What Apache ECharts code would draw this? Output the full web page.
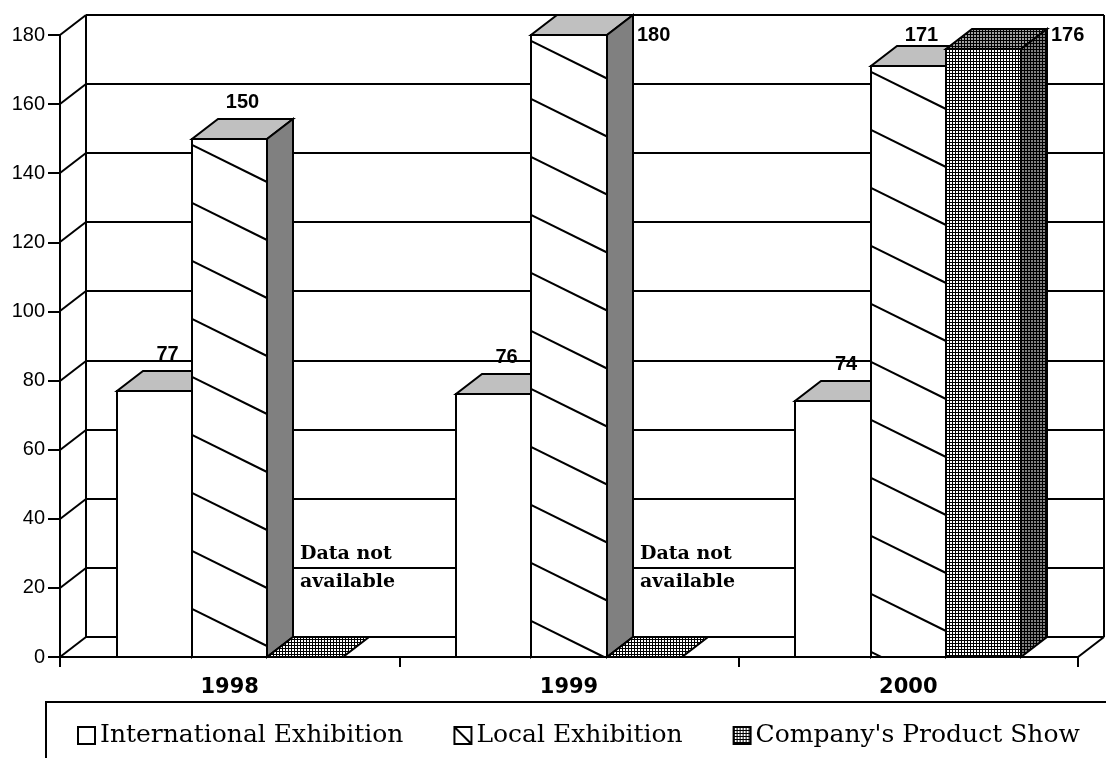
<!DOCTYPE html>
<html>
<head>
<meta charset="utf-8">
<title>Exhibitions 1998-2000</title>
<script src="https://cdn.jsdelivr.net/npm/echarts@6/dist/echarts.min.js"></script>
<style>
  html, body { margin: 0; padding: 0; background: #fff; }
  #chart { width: 1106px; height: 758px; }
</style>
</head>
<body>
<div id="chart"></div>
<script>
// data
const categories = ['1998', '1999', '2000']
const international = [77, 76, 74]
const local = [150, 180, 171]
const company = [null, null, 176]   // null = no data for that year
const missingText = 'Data not\navailable'
const yTicks = [0, 20, 40, 60, 80, 100, 120, 140, 160, 180]
const seriesNames = ['International Exhibition', 'Local Exhibition', "Company's Product Show"]

// 3d depth offset of the floor / walls (px)
const DX = 26
const DY = -20

// small fill patterns
function gridPattern (bg, line) {
  const c = document.createElement('canvas')
  c.width = 3
  c.height = 3
  const ctx = c.getContext('2d')
  ctx.fillStyle = bg
  ctx.fillRect(0, 0, 3, 3)
  ctx.fillStyle = line
  ctx.fillRect(0, 0, 3, 1)
  ctx.fillRect(0, 0, 1, 3)
  return { image: c, repeat: 'repeat' }
}
const gridFront = gridPattern('#ffffff', '#000000')
const gridTop = gridPattern('#a0a0a0', '#000000')
const gridSide = gridPattern('#808080', '#000000')

const hatchCache = {}
function hatchPattern (w) {
  const key = Math.round(w)
  if (!hatchCache[key]) {
    const c = document.createElement('canvas')
    c.width = key + 4
    c.height = 58
    const ctx = c.getContext('2d')
    ctx.fillStyle = '#fff'
    ctx.fillRect(0, 0, c.width, c.height)
    ctx.strokeStyle = '#000'
    ctx.lineWidth = 2
    ctx.beginPath()
    ctx.moveTo(0, 6)
    ctx.lineTo(w, 6 + w * 37 / 75)
    ctx.stroke()
    hatchCache[key] = { image: c, repeat: 'repeat' }
  }
  return hatchCache[key]
}

function line (x1, y1, x2, y2) {
  return {
    type: 'line',
    shape: { x1: Math.round(x1), y1: Math.round(y1), x2: Math.round(x2), y2: Math.round(y2) },
    style: { stroke: '#000', lineWidth: 2 }
  }
}

function face (x, y, points, fill) {
  return {
    type: 'polygon',
    x: x,
    y: y,
    shape: { points: points },
    style: { fill: fill, stroke: '#000', lineWidth: 2, lineJoin: 'miter' }
  }
}

function label (text, x, y, font, align) {
  return {
    type: 'text',
    style: {
      text: text,
      x: x,
      y: y,
      fill: '#000',
      font: font,
      align: align,
      textAlign: align,
      verticalAlign: 'middle',
      textVerticalAlign: 'middle',
      lineHeight: 28
    },
    z2: 10
  }
}

// back wall, left wall and floor edges
function renderWalls (params, api) {
  const cs = params.coordSys
  const v = api.value(1)
  const y = api.coord([0, v])[1]
  const x0 = cs.x
  const x1 = cs.x + cs.width
  const children = [
    line(x0, y, x0 + DX, y + DY),
    line(x0 + DX, y + DY, x1 + DX, y + DY)
  ]
  if (params.dataIndex === 0) {
    children.push(line(x0 + DX, y + DY, x0 + DX, cs.y + DY))
    children.push(line(x1 + DX, y + DY, x1 + DX, cs.y + DY))
    children.push(line(x1, y, x1 + DX, y + DY))
  }
  return { type: 'group', children: children }
}

function makeBar (k, fills) {
  return function (params, api) {
    const cs = params.coordSys
    const i = api.value(0)
    const v = api.value(1)
    const missing = api.value(2) === 1
    const band = api.size([1, 0])[0]
    const bw = band / 4.5
    const base = api.coord([i, 0])
    const left = Math.round(base[0] - 1.5 * bw + k * bw)
    const w = Math.round(base[0] - 1.5 * bw + (k + 1) * bw) - left
    const y0 = Math.round(base[1])
    const yTop = Math.round(api.coord([i, v])[1])
    const h = y0 - yTop
    const children = []
    const topPts = [[0, 0], [w, 0], [w + DX, DY], [DX, DY]]

    if (missing) {
      children.push(face(left, y0, topPts, fills.empty))
      children.push(label(missingText, left + 33, y0 - 89, 'bold 19px "DejaVu Serif"', 'left'))
      return { type: 'group', children: children }
    }

    const front = typeof fills.front === 'function' ? fills.front(w) : fills.front
    children.push(face(left, yTop, [[0, 0], [w, 0], [w, h], [0, h]], front))
    children.push(face(left, yTop, topPts, fills.top))
    children.push(face(left, yTop, [[w, 0], [w + DX, DY], [w + DX, h + DY], [w, h]], fills.side))

    // value label above the bar, or beside it when it would leave the plot
    const backTop = yTop + DY
    const font = 'bold 20px "Liberation Sans"'
    if (backTop - 19 < cs.y - 10) {
      children.push(label(String(v), left + w + DX + 4, cs.y, font, 'left'))
    } else {
      children.push(label(String(v), left + w / 2 + DX / 2, Math.max(backTop - 17, cs.y), font, 'center'))
    }
    return { type: 'group', children: children }
  }
}

function toData (values) {
  return values.map(function (v, i) {
    return v == null ? [i, 0, 1] : [i, v, 0]
  })
}

const chart = echarts.init(document.getElementById('chart'))
chart.setOption({
  animation: false,
  backgroundColor: '#fff',
  grid: { left: 60, right: 28, top: 35, bottom: 101 },
  legend: {
    left: 72,
    top: 718,
    itemWidth: 17,
    itemHeight: 17,
    itemGap: 50,
    selectedMode: false,
    textStyle: { fontFamily: 'DejaVu Serif', fontSize: 25, color: '#000' },
    data: [
      { name: seriesNames[0], icon: 'rect', itemStyle: { color: '#fff', borderColor: '#000', borderWidth: 2 } },
      { name: seriesNames[1], icon: 'path://M0,0H16V16H0ZM0,0L16,16', itemStyle: { color: '#fff', borderColor: '#000', borderWidth: 2 } },
      { name: seriesNames[2], icon: 'rect', itemStyle: { color: gridFront, borderColor: '#000', borderWidth: 2 } }
    ]
  },
  graphic: [{
    type: 'rect',
    shape: { x: 46, y: 702, width: 1200, height: 200 },
    style: { fill: 'none', stroke: '#000', lineWidth: 2 }
  }],
  xAxis: {
    type: 'category',
    data: categories,
    boundaryGap: true,
    axisLine: { lineStyle: { color: '#000', width: 2 } },
    axisTick: { show: true, length: 10, lineStyle: { color: '#000', width: 2 } },
    axisLabel: { fontFamily: 'DejaVu Sans', fontWeight: 'bold', fontSize: 21, color: '#000', margin: 20 },
    splitLine: { show: false }
  },
  yAxis: {
    type: 'value',
    min: 0,
    max: 180,
    interval: 20,
    axisLine: { show: true, lineStyle: { color: '#000', width: 2 } },
    axisTick: { show: true, length: 12, lineStyle: { color: '#000', width: 2 } },
    axisLabel: { fontFamily: 'Liberation Sans', fontSize: 20, color: '#000', margin: 15 },
    splitLine: { show: false }
  },
  series: [
    {
      name: 'walls',
      type: 'custom',
      z: 1,
      clip: false,
      silent: true,
      encode: { x: 0, y: 1 },
      data: yTicks.map(function (v) { return [0, v] }),
      renderItem: renderWalls
    },
    {
      name: seriesNames[0],
      type: 'custom',
      z: 2,
      clip: false,
      encode: { x: 0, y: 1 },
      itemStyle: { color: '#fff' },
      data: toData(international),
      renderItem: makeBar(0, { front: '#fff', top: '#c0c0c0', side: '#808080', empty: '#c0c0c0' })
    },
    {
      name: seriesNames[1],
      type: 'custom',
      z: 2,
      clip: false,
      encode: { x: 0, y: 1 },
      itemStyle: { color: '#fff' },
      data: toData(local),
      renderItem: makeBar(1, { front: hatchPattern, top: '#c0c0c0', side: '#808080', empty: '#c0c0c0' })
    },
    {
      name: seriesNames[2],
      type: 'custom',
      z: 2,
      clip: false,
      encode: { x: 0, y: 1 },
      itemStyle: { color: gridTop },
      data: toData(company),
      renderItem: makeBar(2, { front: gridFront, top: gridTop, side: gridSide, empty: gridFront })
    }
  ]
})
</script>
</body>
</html>
